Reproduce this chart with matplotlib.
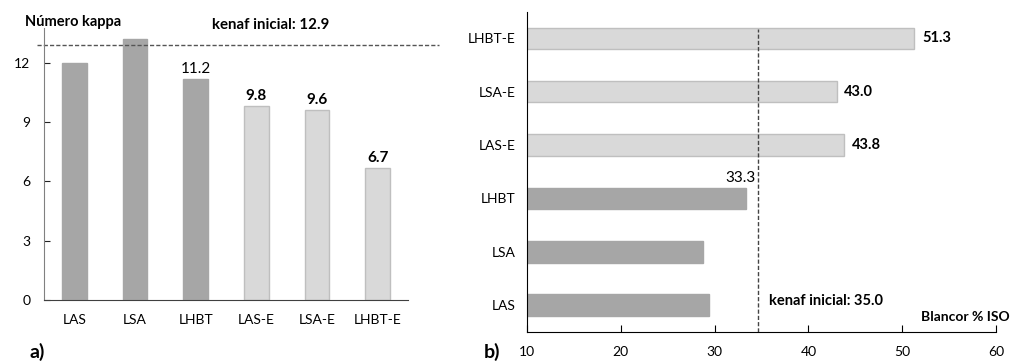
import matplotlib
matplotlib.use("Agg")
import matplotlib.pyplot as plt

plt.rcParams['font.family'] = ['Lato', 'DejaVu Sans']

# a) kappa number
kappa_labels = ["LAS", "LSA", "LHBT", "LAS-E", "LSA-E", "LHBT-E"]
kappa_values = [12.0, 13.2, 11.2, 9.8, 9.6, 6.7]
kappa_initial = 12.9

# b) brightness
bright_labels = ["LAS", "LSA", "LHBT", "LAS-E", "LSA-E", "LHBT-E"]
bright_values = [29.4, 28.8, 33.3, 43.8, 43.0, 51.3]
bright_line = 34.6
bright_initial_text = "35.0"

dark = "#a6a6a6"
light = "#d9d9d9"
light_edge = "#bfbfbf"
colors = [dark, dark, dark, light, light, light]
edges = [dark, dark, dark, light_edge, light_edge, light_edge]

fig = plt.figure(figsize=(10.29, 3.63), dpi=100)

# ---- left panel
ax1 = fig.add_axes([0.0428, 0.1736, 0.3537, 0.7493])
x = range(len(kappa_labels))
ax1.bar(x, kappa_values, width=0.41, color=colors, edgecolor=edges, linewidth=1)
ax1.set_xlim(-0.5, 5.5)
ax1.set_ylim(0, 13.77)
ax1.set_yticks([0, 3, 6, 9, 12])
ax1.set_xticks(list(x))
ax1.set_xticklabels(kappa_labels)
for s in ["top", "right"]:
    ax1.spines[s].set_visible(False)
ax1.spines["left"].set_color("#808080")
ax1.spines["bottom"].set_color("#404040")
ax1.tick_params(axis="y", direction="in", length=4, color="#222222", labelsize=10, pad=10)
ax1.tick_params(axis="x", length=0, labelsize=10, pad=10)
ax1.axhline(kappa_initial, xmin=-0.02, xmax=1.085, color="#555555", ls=(0, (3, 1.5)),
            lw=1, clip_on=False)
for i, v in enumerate(kappa_values):
    if i < 2:
        continue
    w = "normal" if i == 2 else "bold"
    ax1.text(i, v + 0.15, f"{v:.1f}", ha="center", va="bottom", fontsize=11, fontweight=w)

fig.text(25 / 1029, 1 - 22 / 363, "Número kappa", fontsize=10.5, fontweight="bold", va="center")
fig.text(271 / 1029, 1 - 25 / 363, f"kenaf inicial: {kappa_initial}", fontsize=10.8,
         fontweight="bold", va="center", ha="center")
fig.text(30 / 1029, 1 - 352 / 363, "a)", fontsize=14, fontweight="bold", va="center")

# ---- right panel
ax2 = fig.add_axes([0.5121, 0.0862, 0.4558, 0.8816])
y = range(len(bright_labels))
ax2.barh(y, [v - 10 for v in bright_values], left=10, height=0.405, color=colors,
         edgecolor=edges, linewidth=1)
ax2.set_xlim(10, 60)
ax2.set_ylim(-0.5, 5.5)
ax2.set_yticks(list(y))
ax2.set_yticklabels(bright_labels)
ax2.set_xticks([10, 20, 30, 40, 50, 60])
for s in ["top", "right"]:
    ax2.spines[s].set_visible(False)
ax2.tick_params(axis="x", direction="in", length=5, labelsize=10, pad=10)
ax2.tick_params(axis="y", length=0, labelsize=10, pad=8)
ax2.axvline(bright_line, ymin=0, ymax=0.946, color="#444444", ls=(0, (3, 1.5)), lw=1)
for i, v in enumerate(bright_values):
    if i < 2:
        continue
    if i == 2:
        ax2.text(v - 0.5, i + 0.25, f"{v:.1f}", ha="center", va="bottom", fontsize=11)
    else:
        ax2.text(v + 0.8, i, f"{v:.1f}", ha="left", va="center", fontsize=10.5,
                 fontweight="bold")
ax2.text(35.8, 0.07, f"kenaf inicial: {bright_initial_text}", fontsize=10.5,
         fontweight="bold", va="center")
fig.text(1010 / 1029, 1 - 317 / 363, "Blancor % ISO", fontsize=10, fontweight="bold",
         va="center", ha="right")
fig.text(484 / 1029, 1 - 352 / 363, "b)", fontsize=14, fontweight="bold", va="center")

fig.savefig("out.png", dpi=100)
